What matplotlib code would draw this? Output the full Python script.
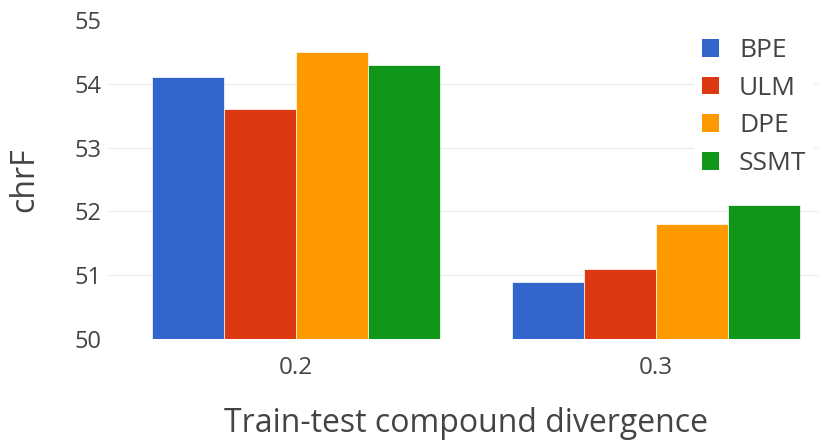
import matplotlib
matplotlib.use("Agg")
import matplotlib.pyplot as plt
from matplotlib.patches import Patch
import numpy as np

plt.rcParams['font.family'] = ['Open Sans', 'DejaVu Sans']

# данные
groups = ['0.2', '0.3']
methods = ['BPE', 'ULM', 'DPE', 'SSMT']
bpe = [54.1, 50.9]
ulm = [53.6, 51.1]
dpe = [54.5, 51.8]
ssmt = [54.3, 52.1]
colors = ['#3366cc', '#dc3912', '#ff9900', '#109618']
yticks = [50, 51, 52, 53, 54, 55]

fig = plt.figure(figsize=(8.19, 4.44), dpi=100)
ax = fig.add_axes([107 / 819, 105 / 444, 738 / 819, 319 / 444])

x = np.arange(len(groups))
w = 0.2
for i, (vals, c) in enumerate(zip([bpe, ulm, dpe, ssmt], colors)):
    ax.bar(x + (i - 1.5) * w, np.array(vals) - 50, width=w, bottom=50,
           color=c, edgecolor='white', linewidth=0.5, zorder=2)

ax.set_xlim(-0.526, 1.526)
ax.set_ylim(50, 55)
ax.set_yticks(yticks)
ax.set_xticks(x)
ax.set_xticklabels(groups)
for yv in yticks[1:-1]:
    ax.axhline(yv, color='#eeeeee', linewidth=1, zorder=1)

for s in ax.spines.values():
    s.set_visible(False)
ax.tick_params(length=0, labelsize=17, colors='#444444', pad=4)
ax.tick_params(axis='x', pad=12, labelsize=17.5)

fig.text(25 / 819, 1 - 180 / 444, 'chrF', rotation=90, ha='center', va='center',
         fontsize=23, color='#444444')
fig.text(466 / 819, 1 - 423 / 444, 'Train-test compound divergence', ha='center',
         va='center', fontsize=23, color='#444444')

# легенда
handles = [Patch(facecolor=c, edgecolor='none') for c in colors]
leg = fig.legend(handles, methods, loc='upper left', bbox_to_anchor=(681 / 819, 1 - 17 / 444),
                 frameon=True, fontsize=19, handlelength=0.65, handleheight=0.65,
                 handletextpad=0.75, labelspacing=0.48, borderpad=0.3)
leg.get_frame().set_facecolor('white')
leg.get_frame().set_edgecolor('none')
leg.get_frame().set_alpha(1)
for t in leg.get_texts():
    t.set_color('#444444')

fig.savefig('out.png', dpi=100)
